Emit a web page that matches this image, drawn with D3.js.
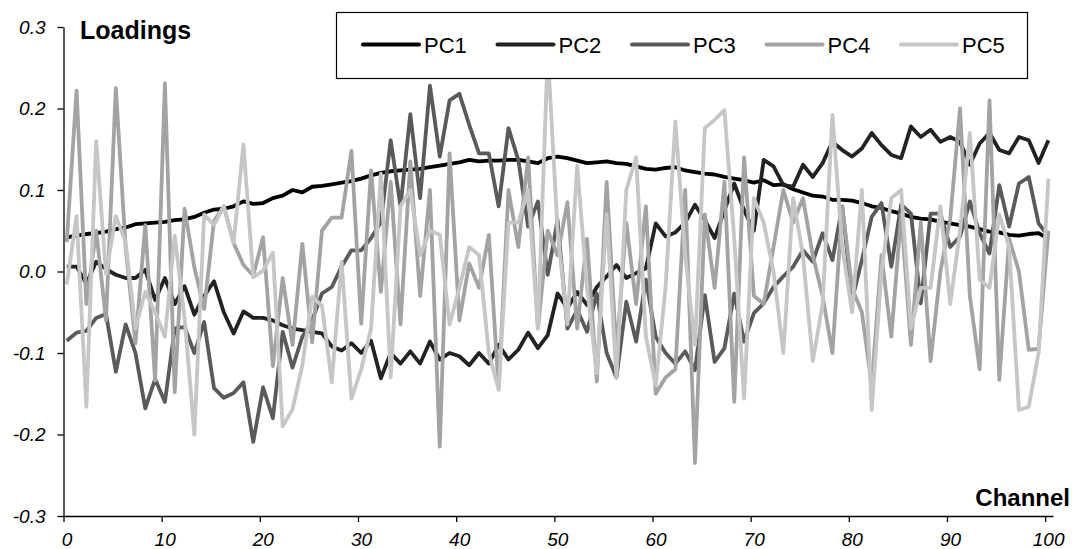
<!DOCTYPE html>
<html>
<head>
<meta charset="utf-8">
<script src="https://cdn.jsdelivr.net/npm/d3@7"></script>
<style>
  body { margin: 0; background: #fff; }
  text { font-family: "Liberation Sans", Arial, sans-serif; }
</style>
</head>
<body>
<div id="chart"></div>
<script>
// channels 0..100 (one value per channel)
const channels = d3.range(0, 101);
const xTicks = [0, 10, 20, 30, 40, 50, 60, 70, 80, 90, 100];
const yTicks = [-0.3, -0.2, -0.1, 0.0, 0.1, 0.2, 0.3];
const seriesNames = ["PC1", "PC2", "PC3", "PC4", "PC5"];
const seriesColors = ["#000000", "#222222", "#5a5a5a", "#a3a3a3", "#c6c6c6"];

const pc1 = [0.042, 0.044, 0.046, 0.047, 0.049, 0.052, 0.054, 0.058, 0.059, 0.060,
  0.061, 0.063, 0.064, 0.067, 0.072, 0.076, 0.077, 0.080, 0.086, 0.083,
  0.084, 0.090, 0.093, 0.100, 0.097, 0.104, 0.105, 0.107, 0.109, 0.111,
  0.114, 0.118, 0.121, 0.123, 0.124, 0.125, 0.126, 0.128, 0.130, 0.132,
  0.134, 0.137, 0.135, 0.136, 0.136, 0.137, 0.137, 0.135, 0.133, 0.139,
  0.141, 0.139, 0.136, 0.133, 0.134, 0.135, 0.133, 0.132, 0.129, 0.126,
  0.125, 0.127, 0.128, 0.124, 0.122, 0.120, 0.119, 0.116, 0.114, 0.112,
  0.109, 0.112, 0.106, 0.107, 0.101, 0.097, 0.093, 0.092, 0.088, 0.088,
  0.087, 0.084, 0.080, 0.078, 0.074, 0.071, 0.067, 0.065, 0.064, 0.061,
  0.059, 0.057, 0.055, 0.052, 0.049, 0.048, 0.045, 0.044, 0.046, 0.047, 0.040];

const pc2 = [0.006, 0.006, -0.015, 0.012, 0.003, -0.004, -0.008, -0.008, 0.002, -0.035,
  -0.008, -0.040, -0.018, -0.053, -0.030, -0.012, -0.050, -0.076, -0.049, -0.057,
  -0.057, -0.060, -0.066, -0.070, -0.072, -0.074, -0.076, -0.092, -0.097, -0.088,
  -0.100, -0.085, -0.131, -0.100, -0.113, -0.098, -0.113, -0.086, -0.108, -0.100,
  -0.104, -0.115, -0.100, -0.113, -0.090, -0.108, -0.096, -0.075, -0.094, -0.078,
  -0.027, -0.045, -0.025, -0.041, -0.019, -0.006, 0.008, -0.008, -0.002, 0.004,
  0.059, 0.043, 0.048, 0.060, 0.082, 0.063, 0.041, 0.075, 0.108, 0.075,
  0.050, 0.137, 0.129, 0.106, 0.104, 0.131, 0.116, 0.133, 0.159, 0.149,
  0.141, 0.151, 0.170, 0.155, 0.143, 0.139, 0.178, 0.165, 0.174, 0.159,
  0.165, 0.159, 0.131, 0.157, 0.170, 0.149, 0.145, 0.165, 0.161, 0.133, 0.161];

const pc3 = [-0.085, -0.075, -0.073, -0.057, -0.052, -0.123, -0.065, -0.100, -0.168, -0.132,
  -0.160, -0.070, -0.068, -0.100, -0.062, -0.143, -0.155, -0.149, -0.136, -0.209,
  -0.142, -0.180, -0.074, -0.118, -0.080, -0.060, -0.027, -0.019, 0.006, 0.026,
  0.026, 0.041, 0.060, 0.161, 0.080, 0.193, 0.090, 0.228, 0.141, 0.210,
  0.218, 0.180, 0.145, 0.145, 0.080, 0.176, 0.137, 0.055, 0.086, -0.004,
  0.063, -0.070, -0.047, -0.074, -0.027, -0.100, -0.130, -0.037, -0.086, -0.010,
  -0.080, -0.100, -0.113, -0.098, -0.121, -0.029, -0.111, -0.094, -0.027, -0.086,
  -0.051, -0.039, -0.019, -0.006, 0.006, 0.026, 0.012, 0.047, 0.014, 0.080,
  -0.035, 0.014, 0.067, 0.084, 0.006, 0.082, 0.071, -0.039, 0.071, 0.071,
  0.030, 0.043, 0.086, 0.047, 0.022, 0.106, 0.055, 0.108, 0.116, 0.059, 0.043];

const pc4 = [0.036, 0.222, -0.040, 0.050, -0.060, 0.225, 0.030, -0.088, 0.057, -0.134,
  0.231, -0.148, 0.077, 0.005, -0.046, 0.062, 0.080, 0.035, 0.008, -0.005,
  0.042, -0.116, -0.008, -0.090, 0.034, -0.087, 0.050, 0.066, 0.066, 0.148,
  -0.064, 0.124, -0.025, 0.110, -0.065, 0.135, -0.030, 0.100, -0.215, 0.145,
  -0.060, 0.010, -0.020, 0.045, -0.145, 0.100, 0.030, 0.140, -0.070, 0.050,
  0.020, 0.085, -0.070, 0.040, -0.135, 0.110, -0.100, 0.060, -0.040, 0.080,
  -0.150, -0.130, -0.120, 0.100, -0.235, 0.070, -0.020, 0.110, -0.160, 0.140,
  -0.030, -0.040, 0.030, 0.100, 0.060, 0.090, 0.020, -0.030, -0.100, 0.080,
  -0.020, -0.050, -0.140, 0.020, -0.080, 0.070, -0.090, 0.060, -0.110, 0.000,
  0.065, 0.200, -0.030, -0.120, 0.210, -0.133, 0.040, 0.000, -0.096, -0.095, 0.050];

const pc5 = [-0.016, 0.068, -0.166, 0.160, -0.003, 0.068, 0.036, -0.070, -0.025, -0.050,
  -0.080, 0.044, -0.057, -0.200, 0.070, 0.057, 0.080, 0.035, 0.156, -0.007,
  0.001, 0.023, -0.190, -0.169, -0.115, -0.031, -0.042, -0.136, 0.012, -0.156,
  -0.120, -0.070, 0.120, -0.130, 0.080, 0.100, 0.020, 0.050, 0.045, -0.065,
  -0.020, 0.030, 0.020, -0.100, -0.145, 0.060, 0.060, 0.100, -0.070, 0.270,
  0.050, -0.065, 0.130, -0.020, -0.125, 0.070, -0.130, 0.100, 0.140, -0.080,
  -0.140, -0.020, 0.184, 0.020, -0.090, 0.176, 0.186, 0.198, 0.040, -0.156,
  0.090, 0.060, 0.000, -0.100, 0.090, 0.020, -0.110, -0.040, 0.192, 0.030,
  -0.050, 0.100, -0.170, 0.000, 0.090, 0.100, -0.070, -0.020, -0.020, 0.080,
  -0.040, 0.050, 0.170, -0.010, -0.020, 0.070, 0.030, -0.170, -0.166, -0.100, 0.114];

const seriesValues = [pc1, pc2, pc3, pc4, pc5];

const width = 1075, height = 549;
const svg = d3.select("#chart").append("svg")
  .attr("width", width)
  .attr("height", height);

const x = d3.scaleLinear().domain([0, 100.8]).range([63.5, 1053]);
const y = d3.scaleLinear().domain([-0.3, 0.3]).range([516, 27]);
const xOffset = 0.33; // points sit a little right of the integer ticks

// axes
svg.append("g")
  .attr("transform", "translate(0,516)")
  .call(d3.axisBottom(x).tickValues(xTicks).tickSize(6).tickSizeOuter(0).tickPadding(11))
  .call(g => g.selectAll("text")
    .attr("font-size", 19).attr("font-style", "italic").attr("dx", 3)
    .attr("font-family", "Liberation Sans, Arial, sans-serif"))
  .call(g => g.selectAll("line, path").attr("stroke", "#000").attr("stroke-width", 1.3));

svg.append("g")
  .attr("transform", "translate(63.5,0)")
  .call(d3.axisLeft(y).tickValues(yTicks).tickSize(6).tickSizeOuter(0).tickPadding(12)
    .tickFormat(d => d.toFixed(1)))
  .call(g => g.selectAll("text")
    .attr("font-size", 19).attr("font-style", "italic")
    .attr("font-family", "Liberation Sans, Arial, sans-serif"))
  .call(g => g.selectAll("line, path").attr("stroke", "#000").attr("stroke-width", 1.3));

// lines
const line = d3.line()
  .x((d, i) => x(channels[i] + xOffset))
  .y(d => y(d));

svg.append("g").selectAll("path")
  .data(seriesValues)
  .join("path")
  .attr("d", line)
  .attr("fill", "none")
  .attr("stroke", (d, i) => seriesColors[i])
  .attr("stroke-width", 3.8)
  .attr("stroke-linejoin", "round");

// titles
svg.append("text")
  .attr("x", 80).attr("y", 39)
  .attr("font-size", 25).attr("font-weight", "bold")
  .text("Loadings");

svg.append("text")
  .attr("x", 1070).attr("y", 506)
  .attr("text-anchor", "end")
  .attr("font-size", 24).attr("font-weight", "bold")
  .text("Channel");

// legend
const legend = svg.append("g");
legend.append("rect")
  .attr("x", 336.5).attr("y", 12.5)
  .attr("width", 691).attr("height", 66)
  .attr("fill", "#fff").attr("stroke", "#000").attr("stroke-width", 1.2);

const items = legend.selectAll("g.item")
  .data(seriesNames)
  .join("g")
  .attr("class", "item")
  .attr("transform", (d, i) => `translate(${363 + i * 134.5},44.5)`);

items.append("line")
  .attr("x1", 0).attr("x2", 56)
  .attr("stroke", (d, i) => seriesColors[i])
  .attr("stroke-width", 4)
  .attr("stroke-linecap", "round");

items.append("text")
  .attr("x", 61).attr("y", 8)
  .attr("font-size", 22)
  .text(d => d);
</script>
</body>
</html>
